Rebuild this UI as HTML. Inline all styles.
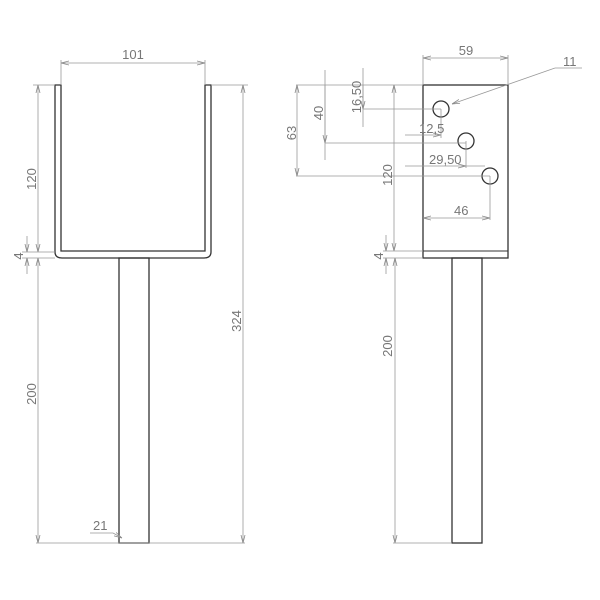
<!DOCTYPE html>
<html><head><style>body{margin:0;background:#fff}svg{display:block}text{font-family:"Liberation Sans",sans-serif;fill:#777;font-size:13px}</style></head>
<body>
<svg width="600" height="600" viewBox="0 0 600 600" xmlns="http://www.w3.org/2000/svg">
<defs><marker id="a" markerWidth="8" markerHeight="6" refX="8" refY="3" orient="auto-start-reverse" markerUnits="userSpaceOnUse"><path d="M0,1 L8,3 L0,5" fill="none" stroke="#888" stroke-width="0.8"/></marker></defs>
<g fill="none" stroke="#333" stroke-width="1.3">
<path d="M55,85 L55,252 Q55,258 62,258 L204,258 Q211,258 211,252 L211,85 L205,85 L205,251 L61,251 L61,85 Z"/>
<rect x="119" y="258" width="30" height="285"/>
<rect x="423" y="85" width="85" height="173"/>
<line x1="423" y1="251" x2="508" y2="251" stroke-width="1"/>
<rect x="452" y="258" width="30" height="285"/>
<circle cx="441" cy="109" r="8"/><circle cx="466" cy="141" r="8"/><circle cx="490" cy="176" r="8"/>
</g>
<g fill="none" stroke="#999" stroke-width="0.8">
<line x1="61" y1="60" x2="61" y2="85"/><line x1="205" y1="60" x2="205" y2="85"/>
<line x1="61" y1="63" x2="205" y2="63" marker-start="url(#a)" marker-end="url(#a)"/>
<line x1="33" y1="85" x2="55" y2="85"/><line x1="211" y1="85" x2="248" y2="85"/>
<line x1="38" y1="85" x2="38" y2="252" marker-start="url(#a)" marker-end="url(#a)"/>
<line x1="22" y1="252" x2="55" y2="252"/><line x1="22" y1="258" x2="55" y2="258"/>
<line x1="27" y1="236" x2="27" y2="252" marker-end="url(#a)"/><line x1="27" y1="274" x2="27" y2="258" marker-end="url(#a)"/>
<line x1="38" y1="258" x2="38" y2="543" marker-start="url(#a)" marker-end="url(#a)"/>
<line x1="36" y1="543" x2="245" y2="543"/>
<line x1="243" y1="85" x2="243" y2="543" marker-start="url(#a)" marker-end="url(#a)"/>
<line x1="90" y1="533" x2="113" y2="533"/><line x1="113" y1="533" x2="122" y2="538" marker-end="url(#a)"/>
<line x1="423" y1="55" x2="423" y2="85"/><line x1="508" y1="55" x2="508" y2="85"/>
<line x1="423" y1="58" x2="508" y2="58" marker-start="url(#a)" marker-end="url(#a)"/>
<line x1="582" y1="68" x2="555" y2="68"/><line x1="555" y1="68" x2="452" y2="104" marker-end="url(#a)"/>
<line x1="296" y1="85" x2="423" y2="85"/>
<line x1="297" y1="85" x2="297" y2="176" marker-start="url(#a)" marker-end="url(#a)"/>
<line x1="296" y1="176" x2="490" y2="176"/>
<line x1="325" y1="70" x2="325" y2="160"/><line x1="325" y1="85" x2="325" y2="143" marker-end="url(#a)"/>
<line x1="325" y1="143" x2="466" y2="143"/>
<line x1="363" y1="68" x2="363" y2="127"/><line x1="363" y1="85" x2="363" y2="109" marker-end="url(#a)"/>
<line x1="363" y1="109" x2="441" y2="109"/>
<line x1="394" y1="85" x2="394" y2="251" marker-start="url(#a)" marker-end="url(#a)"/>
<line x1="405" y1="135" x2="441" y2="135" marker-end="url(#a)"/><line x1="441" y1="109" x2="441" y2="138"/>
<line x1="405" y1="166" x2="466" y2="166" marker-end="url(#a)"/><line x1="466" y1="141" x2="466" y2="168"/>
<line x1="466" y1="166" x2="485" y2="166"/>
<line x1="423" y1="218" x2="490" y2="218" marker-start="url(#a)" marker-end="url(#a)"/><line x1="490" y1="176" x2="490" y2="220"/>
<line x1="383" y1="251" x2="423" y2="251"/><line x1="383" y1="258" x2="423" y2="258"/>
<line x1="386" y1="235" x2="386" y2="251" marker-end="url(#a)"/><line x1="386" y1="274" x2="386" y2="258" marker-end="url(#a)"/>
<line x1="395" y1="258" x2="395" y2="543" marker-start="url(#a)" marker-end="url(#a)"/>
<line x1="393" y1="543" x2="452" y2="543"/>
</g>
<text x="133" y="59" text-anchor="middle">101</text>
<text transform="translate(36,179) rotate(-90)" text-anchor="middle">120</text>
<text transform="translate(23,256) rotate(-90)" text-anchor="middle">4</text>
<text transform="translate(36,394) rotate(-90)" text-anchor="middle">200</text>
<text transform="translate(241,321) rotate(-90)" text-anchor="middle">324</text>
<text x="93" y="530">21</text>
<text x="466" y="55" text-anchor="middle">59</text>
<text x="563" y="66">11</text>
<text transform="translate(296,133) rotate(-90)" text-anchor="middle">63</text>
<text transform="translate(323,113) rotate(-90)" text-anchor="middle">40</text>
<text transform="translate(361,97) rotate(-90)" text-anchor="middle">16,50</text>
<text transform="translate(392,175) rotate(-90)" text-anchor="middle">120</text>
<text x="419" y="133">12,5</text>
<text x="429" y="164">29,50</text>
<text x="454" y="215">46</text>
<text transform="translate(383,256) rotate(-90)" text-anchor="middle">4</text>
<text transform="translate(392,346) rotate(-90)" text-anchor="middle">200</text>
</svg>
</body></html>
